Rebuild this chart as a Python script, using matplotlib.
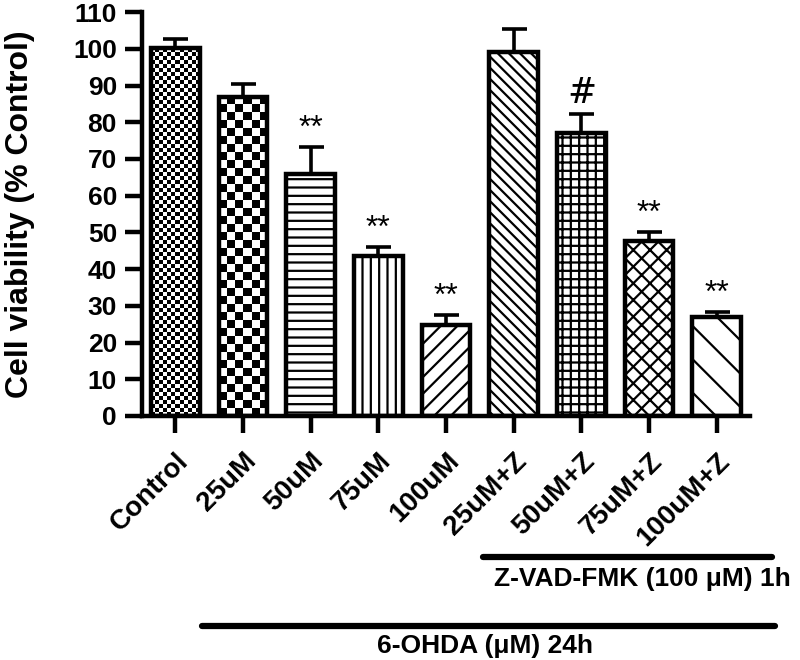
import numpy as np
import matplotlib
matplotlib.use("Agg")
import matplotlib.pyplot as plt

plt.rcParams['font.family'] = ['Liberation Sans', 'DejaVu Sans']
plt.rcParams['hatch.linewidth'] = 1.6

# ── data ────────────────────────────────────────────────
groups = ["Control", "25uM", "50uM", "75uM", "100uM",
          "25uM+Z", "50uM+Z", "75uM+Z", "100uM+Z"]
viability = [100.2, 87.0, 66.0, 43.6, 24.8, 99.2, 77.1, 47.6, 26.9]
sem = [2.4, 3.4, 7.3, 2.4, 2.7, 6.2, 5.2, 2.6, 1.5]
marks = ["", "", "**", "**", "**", "", "#", "**", "**"]

# fill style for each bar: ("checker", cell_px) or ("hatch", pattern)
fills = [("checker", 4), ("checker", 8), ("hatch", "--"), ("hatch", "||"),
         ("hatch", "//"), ("hatch", "\\\\\\"), ("hatch", "++"),
         ("hatch", "xx"), ("hatch", "\\")]

fig = plt.figure(figsize=(8, 6.6), dpi=100)
ax = fig.add_axes([0.1775, 0.3697, 0.76, 0.612])

x = np.arange(len(groups))
width = 0.72

# pixels per data unit (for checker cells)
px_x = 0.76 * 800 / (8.49 + 0.49)
px_y = 0.612 * 660 / 110

ax.errorbar(x, viability, yerr=[np.zeros(len(sem)), sem], fmt="none",
            ecolor="black", elinewidth=2.6, capsize=9, capthick=2.6, zorder=1)

for xi, v, (kind, style) in zip(x, viability, fills):
    if kind == "hatch":
        ax.bar(xi, v, width, color="white", edgecolor="black", hatch=style,
               linewidth=0, zorder=2)
    else:
        b = ax.bar(xi, v, width, color="white", linewidth=0, zorder=2)[0]
        nx = int(round(width * px_x / style))
        ny = int(round(v * px_y / style))
        ii, jj = np.indices((ny, nx))
        pat = ((ii + jj) % 2).astype(float)
        im = ax.imshow(pat, cmap="gray", interpolation="nearest", aspect="auto",
                       extent=[xi - width / 2, xi + width / 2, 0, v],
                       origin="lower", zorder=2.5)
        im.set_clip_path(b)
    ax.bar(xi, v, width, fill=False, edgecolor="black", linewidth=3.2, zorder=3)

ax.set_xlim(-0.49, 8.49)
ax.set_ylim(0, 110)

for xi, v, e, m in zip(x, viability, sem, marks):
    if m == "**":
        ax.text(xi, v + e + 0.8, m, ha="center", va="bottom", fontsize=23)
    elif m == "#":
        ax.text(xi, v + e + 1.0, m, ha="center", va="bottom", fontsize=25,
                style="italic", family="DejaVu Serif")

# axes styling
for s in ["top", "right"]:
    ax.spines[s].set_visible(False)
for s in ["left", "bottom"]:
    ax.spines[s].set_linewidth(3.2)

ax.set_yticks(np.arange(0, 111, 10))
ax.tick_params(axis="y", length=12, width=3.2, pad=6, labelsize=19)
ax.tick_params(axis="x", length=12, width=3.2, pad=11, labelsize=20)
for lab in ax.get_yticklabels():
    lab.set_fontweight("bold")

ax.set_xticks(x)
ax.set_xticklabels(groups, rotation=45, ha="right", va="top",
                   rotation_mode="anchor", fontweight="bold")

ax.set_ylabel("Cell viability (% Control)", fontsize=23, fontweight="bold")
ax.yaxis.set_label_coords(-0.176, 0.5)

# treatment bars under the axis
fig.add_artist(plt.Line2D([483 / 800, 772 / 800], [1 - 557 / 660] * 2,
                          color="black", linewidth=4.5, solid_capstyle="round"))
fig.text(642 / 800, 1 - 579 / 660, "Z-VAD-FMK (100 μM) 1h", ha="center",
         va="center", fontsize=19, fontweight="bold")
fig.add_artist(plt.Line2D([202 / 800, 775 / 800], [1 - 626 / 660] * 2,
                          color="black", linewidth=4.5, solid_capstyle="round"))
fig.text(485 / 800, 1 - 646 / 660, "6-OHDA (μM) 24h", ha="center",
         va="center", fontsize=19, fontweight="bold")

plt.savefig("out.png", dpi=100)
